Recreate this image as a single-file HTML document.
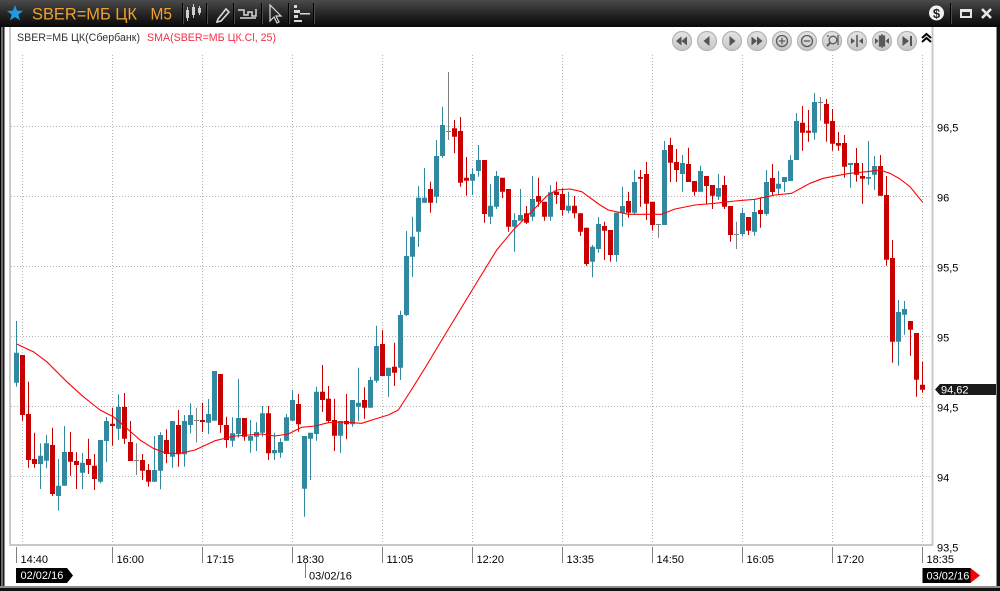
<!DOCTYPE html>
<html><head><meta charset="utf-8"><style>
html,body{margin:0;padding:0;background:#fff;}
svg{display:block;}
text{font-family:"Liberation Sans","Noto Sans CJK SC",sans-serif;}
</style></head><body>
<svg width="1000" height="591" viewBox="0 0 1000 591" xmlns="http://www.w3.org/2000/svg">
<defs>
<linearGradient id="tb" x1="0" y1="0" x2="0" y2="1">
<stop offset="0" stop-color="#4a4a4a"/><stop offset="0.45" stop-color="#2a2a2a"/><stop offset="1" stop-color="#080808"/>
</linearGradient>
<linearGradient id="btn" x1="0" y1="0" x2="0" y2="1">
<stop offset="0" stop-color="#e4e4e4"/><stop offset="1" stop-color="#c6c6c6"/>
</linearGradient>
</defs>
<rect width="1000" height="591" fill="#fff"/>
<!-- title bar -->
<rect x="0" y="0" width="1000" height="27" fill="url(#tb)"/>
<polygon points="15,5 17.06,10.67 23.08,10.87 18.33,14.58 20,20.38 15,17 10,20.38 11.67,14.58 6.92,10.87 12.94,10.67" fill="#1e9be2"/>
<text x="32" y="19.5" font-size="16.5" fill="#f2a22a" textLength="105" lengthAdjust="spacingAndGlyphs">SBER=МБ ЦК</text>
<text x="150.5" y="19.5" font-size="16.5" fill="#f2a22a" textLength="21.5" lengthAdjust="spacingAndGlyphs">M5</text>
<g stroke="#000" stroke-width="1">
<path d="M182.5 3V24M206.5 3V24M233.5 3V24M261.5 3V24M288.5 3V24M313.5 3V24M950.5 3V24"/>
</g>
<g stroke="#4a4a4a" stroke-width="1">
<path d="M183.5 3V24M207.5 3V24M234.5 3V24M262.5 3V24M289.5 3V24M314.5 3V24M951.5 3V24"/>
</g>
<!-- candle icon -->
<g fill="#cfcfcf" stroke="#cfcfcf">
<path d="M187.5 7V21M193.5 4V18M199.5 6V15" stroke-width="1"/>
<rect x="186" y="10" width="3" height="8" stroke="none"/>
<rect x="192" y="7" width="3" height="8" stroke="none"/>
<rect x="198" y="8" width="3" height="5" stroke="none"/>
</g>
<!-- pencil -->
<g stroke="#d8d8d8" fill="none" stroke-width="1.6">
<path d="M218 19L226 9L229 12L221 21L217 22Z"/>
</g>
<!-- wave icon -->
<g stroke="#d8d8d8" fill="none" stroke-width="1.5">
<path d="M238 10H244V15H248V12H252V16H256V9"/>
<path d="M240 18H256"/>
</g>
<!-- cursor -->
<path d="M270 5L270 21L274 17L277 23L279 22L276 16L281 16Z" fill="none" stroke="#d8d8d8" stroke-width="1.2"/>
<!-- bars -->
<g fill="#d8d8d8">
<rect x="294" y="5" width="3" height="3"/><rect x="294" y="10" width="6" height="3"/><rect x="294" y="15" width="4" height="3"/><rect x="294" y="20" width="8" height="2"/>
<rect x="300" y="13" width="10" height="1.5"/>
</g>
<!-- right title icons -->
<circle cx="936.5" cy="13" r="7.5" fill="#f2f2f2"/>
<text x="936.5" y="18" font-size="13" font-weight="bold" fill="#222" text-anchor="middle">$</text>
<rect x="961" y="10" width="10" height="7" fill="none" stroke="#e6e6e6" stroke-width="2"/>
<rect x="961" y="9" width="10" height="3" fill="#e6e6e6"/>
<path d="M982 9L991 18M991 9L982 18" stroke="#e6e6e6" stroke-width="2.6"/>

<!-- window borders -->
<rect x="0" y="27" width="1" height="564" fill="#000"/>
<rect x="1" y="27" width="2" height="564" fill="#6c6c6c"/>
<rect x="3" y="27" width="1.5" height="564" fill="#1a1a1a"/>
<rect x="996" y="27" width="1.2" height="564" fill="#8a8a8a"/>
<rect x="997" y="27" width="3" height="564" fill="#111"/>
<rect x="0" y="586" width="1000" height="2" fill="#8c8c8c"/>
<rect x="0" y="588" width="1000" height="3" fill="#111"/>

<!-- plot frame -->
<rect x="9" y="27" width="2" height="519" fill="#c8c8c8"/>
<rect x="931.5" y="27" width="2" height="519" fill="#c8c8c8"/>
<rect x="9" y="544" width="924.5" height="2" fill="#c8c8c8"/>

<!-- grid -->
<g stroke="#b4b4b4" stroke-width="1" stroke-dasharray="1 2" fill="none">
<path d="M11 126.5H931M11 196.5H931M11 266.5H931M11 336.5H931M11 406.5H931M11 476.5H931"/>
<path d="M22.5 55V544M112.5 55V544M202.5 55V544M292.5 55V544M382.5 55V544M472.5 55V544M562.5 55V544M652.5 55V544M742.5 55V544M832.5 55V544M922.5 55V544"/>
</g>

<!-- header texts -->
<text x="17" y="41" font-size="11" fill="#333" textLength="123" lengthAdjust="spacingAndGlyphs">SBER=МБ ЦК(Сбербанк)</text>
<text x="147" y="41" font-size="11" fill="#f03048" textLength="129" lengthAdjust="spacingAndGlyphs">SMA(SBER=МБ ЦК.Cl, 25)</text>

<!-- nav buttons -->
<g fill="url(#btn)" stroke="#b4b4b4" stroke-width="1.2">
<circle cx="682" cy="41" r="9.5"/><circle cx="707" cy="41" r="9.5"/><circle cx="732" cy="41" r="9.5"/><circle cx="757" cy="41" r="9.5"/><circle cx="782" cy="41" r="9.5"/><circle cx="807" cy="41" r="9.5"/><circle cx="832" cy="41" r="9.5"/><circle cx="857" cy="41" r="9.5"/><circle cx="882" cy="41" r="9.5"/><circle cx="907" cy="41" r="9.5"/>
</g>
<g fill="#545454">
<polygon points="676,41 681.5,36.5 681.5,45.5"/><polygon points="681.5,41 687,36.5 687,45.5"/>
<polygon points="703.5,41 709.5,36 709.5,46"/>
<polygon points="735.5,41 729.5,36 729.5,46"/>
<polygon points="751.5,36.5 757,41 751.5,45.5"/><polygon points="757,36.5 762.5,41 757,45.5"/>
<polygon points="902.5,36 909,41 902.5,46"/><rect x="910" y="36" width="2" height="10"/>
<polygon points="851,38 855,41 851,44"/><polygon points="863,38 859,41 863,44"/>
<polygon points="875,38 878.5,41 875,44"/><polygon points="889,38 885.5,41 889,44"/>
</g>
<g fill="none" stroke="#5a5a5a" stroke-width="1.3">
<circle cx="782" cy="41" r="5.5"/><path d="M778.8 41H785.2M782 37.8V44.2"/>
<circle cx="807" cy="41" r="5.5"/><path d="M803.8 41H810.2"/>
<circle cx="833" cy="40" r="3.8"/><path d="M830.2 42.8L827 46" stroke-width="2"/><path d="M828 35V37M838 35V45"/>
<path d="M857 35V47" stroke-width="1.6"/>
<rect x="879.5" y="36" width="5" height="10" fill="#5a5a5a"/><path d="M882 34V48"/>
</g>
<path d="M922 38L926.5 34L931 38M922 42L926.5 38L931 42" fill="none" stroke="#000" stroke-width="2"/>

<!-- candles: up wicks -->
<path fill="none" stroke="#3189a0" stroke-width="1" d="M16.5 321V386.7M40.5 443.3V489M46.5 435V468.3M58.5 459V510.7M64.5 426V485.7M82.5 453V489M100.5 440V483.3M106.5 417V462M118.5 394.3V440M154.5 436V481.7M160.5 432.3V489.3M172.5 421V467.7M184.5 415V466.7M190.5 403.3V433.3M208.5 399V434M214.5 371V420.7M232.5 417.3V446.7M238.5 379V437.7M250.5 420V452.7M256.5 422.3V451M262.5 406V436.7M274.5 432.7V460M280.5 438.3V457.7M286.5 414V440.7M292.5 390V420.7M304.5 436V516.7M310.5 432.7V480M316.5 386.7V440.7M340.5 421V452.7M352.5 400V426.7M358.5 367.7V421M370.5 376.7V407.7M376.5 325.7V382.7M388.5 367.7V396.7M400.5 310.7V380M406.5 231V316M412.5 216.7V276.7M418.5 186V247M424.5 168V203M436.5 140V203.3M442.5 106.7V157.7M472.5 168.3V195M478.5 145V176.7M490.5 184V224M496.5 171V209M514.5 213.3V251.7M520.5 189V220.7M532.5 176V220.7M550.5 185V220.7M568.5 191.7V213.3M592.5 245V277.3M598.5 217V252.7M616.5 212.7V261.7M622.5 186.7V226.7M634.5 170V215M664.5 141V225M682.5 155V191.7M700.5 165.7V191.7M718.5 174V200M742.5 207.7V236.7M754.5 199V235.7M766.5 170V215.7M778.5 171V195M784.5 177V192M790.5 155.3V181M796.5 113V160M814.5 93V139.7M850.5 163V187.7M868.5 141V184.7M874.5 156V190M898.5 300V365.7M904.5 301V334.7"/>
<!-- up bodies -->
<path fill="#3189a0" d="M14 352.7h5V382.7h-5zM38 455.7h5V464h-5zM44 443.3h5V460.7h-5zM56 485.7h5V496h-5zM62 452h5V485.7h-5zM80 462.7h5V472.7h-5zM98 440h5V481.7h-5zM104 421h5V441h-5zM116 407h5V428.7h-5zM152 470h5V481.7h-5zM158 435h5V470.7h-5zM170 421h5V456.7h-5zM182 421h5V454.3h-5zM188 415h5V425h-5zM206 414h5V422.7h-5zM212 371h5V420.7h-5zM230 433.3h5V440.7h-5zM236 418h5V434h-5zM248 436h5V440.7h-5zM254 432h5V436.7h-5zM260 413.3h5V432.7h-5zM272 450h5V453.3h-5zM278 442h5V452.7h-5zM284 417.3h5V440.7h-5zM290 400h5V420.7h-5zM302 436h5V488.7h-5zM308 432.7h5V438.7h-5zM314 391.7h5V434h-5zM338 421h5V435.7h-5zM350 400h5V424.3h-5zM356 402.7h5V406.7h-5zM368 380h5V407.7h-5zM374 346h5V380.7h-5zM386 367.7h5V376h-5zM398 315h5V367.7h-5zM404 256h5V315h-5zM410 236.7h5V256.7h-5zM416 197.7h5V231.7h-5zM422 197.7h5V202.7h-5zM434 156h5V196.7h-5zM440 125h5V156h-5zM470 174h5V180.7h-5zM476 160h5V171h-5zM488 205.7h5V216.7h-5zM494 176h5V206.7h-5zM512 220h5V226.7h-5zM518 215h5V220.7h-5zM530 199h5V216.7h-5zM548 192.3h5V216.7h-5zM566 205.7h5V210.7h-5zM590 246.7h5V261.7h-5zM596 224h5V249h-5zM614 212.7h5V255h-5zM620 206h5V212.7h-5zM632 182h5V212.7h-5zM662 150h5V225h-5zM680 163h5V174h-5zM698 171h5V191.7h-5zM716 188h5V196.7h-5zM740 213h5V234h-5zM752 212h5V231.7h-5zM764 182h5V214h-5zM776 183.7h5V188.7h-5zM782 177h5V182h-5zM788 160h5V181h-5zM794 121h5V160h-5zM812 102h5V132.7h-5zM848 163h5V165h-5zM866 177h5V178.7h-5zM872 166h5V174.7h-5zM896 312h5V341.7h-5zM902 309h5V314.7h-5z"/>
<!-- down wicks -->
<path fill="none" stroke="#c80000" stroke-width="1" d="M22.5 355V420.7M28.5 381.7V467.7M34.5 432.7V467.7M52.5 427.7V496M70.5 432V475.7M76.5 452.3V489M88.5 438.7V474M94.5 454V490M112.5 407.7V445.7M124.5 393V444M130.5 421V461M142.5 454V480M148.5 464V486.7M166.5 429.3V463.3M178.5 410V466.7M202.5 402.7V432M220.5 374V432.7M226.5 416.7V447.7M244.5 418V440.7M268.5 406V460M298.5 394V431.7M322.5 365V412M328.5 386V422.7M334.5 398.7V451M346.5 394V439.3M364.5 387.3V418.7M382.5 330V376M394.5 342.7V386M430.5 181.7V212.7M454.5 120V153.3M460.5 117V186.7M466.5 157V195.7M484.5 160V222.7M502.5 177.7V198.3M508.5 189V231.7M526.5 206V224M538.5 177.7V206.7M544.5 201.7V220.7M556.5 181.7V204M562.5 188.3V215.7M574.5 196V218.3M580.5 213.3V236M586.5 227.7V266M604.5 221.7V260M610.5 230V261.7M628.5 191.7V217.7M640.5 170V206.7M646.5 162V220M652.5 201.7V230.7M670.5 137.7V182M676.5 149V182M688.5 147.7V182M694.5 181V195.7M706.5 176V204M712.5 185V209M724.5 175.7V209M730.5 206V241.7M748.5 217V235M760.5 197.3V227.7M772.5 164V196M802.5 106V150.7M808.5 110V141.7M826.5 99V141.7M832.5 109V150.7M838.5 132V150.7M844.5 135V177.7M856.5 148V181.7M862.5 163V203.7M880.5 155V195.7M886.5 176V265.7M892.5 240V362.7M910.5 321V355.7M916.5 333V396.7M922.5 361.7V392.7"/>
<!-- down bodies -->
<path fill="#c80000" d="M20 355h5V415h-5zM26 414h5V460h-5zM32 459h5V464h-5zM50 445h5V494h-5zM68 452h5V461.7h-5zM74 461h5V465h-5zM86 459h5V465h-5zM92 465.7h5V479h-5zM110 423.7h5V426h-5zM122 407h5V438.7h-5zM128 442h5V461h-5zM140 460h5V470.7h-5zM146 470h5V481.7h-5zM164 440h5V454h-5zM176 425h5V454.3h-5zM200 420h5V422h-5zM218 374h5V425h-5zM224 425h5V440h-5zM242 418h5V436.7h-5zM266 413.3h5V453.3h-5zM296 404h5V424.3h-5zM320 391.7h5V400h-5zM326 398.7h5V421h-5zM332 420h5V435.7h-5zM344 421h5V424.3h-5zM362 400h5V407.7h-5zM380 344h5V376h-5zM392 366.7h5V372.7h-5zM428 189h5V202.7h-5zM452 128.3h5V136.7h-5zM458 131h5V182.7h-5zM464 177.7h5V180.7h-5zM482 160h5V214h-5zM500 177.7h5V191.7h-5zM506 189h5V226.7h-5zM524 213.3h5V222.7h-5zM536 196h5V201.7h-5zM542 201.7h5V216.7h-5zM554 191.7h5V195h-5zM560 194h5V210h-5zM572 205.7h5V213.3h-5zM578 213.3h5V231.7h-5zM584 227.7h5V264h-5zM602 226h5V230.7h-5zM608 230h5V255h-5zM626 201h5V212.7h-5zM638 177h5V178.7h-5zM644 174h5V203.7h-5zM650 201.7h5V225h-5zM668 145h5V162.7h-5zM674 162h5V170h-5zM686 164h5V182h-5zM692 181h5V191.7h-5zM704 176h5V186h-5zM710 185h5V195.7h-5zM722 185h5V206.7h-5zM728 206h5V235h-5zM746 217h5V230.7h-5zM758 210h5V214h-5zM770 178h5V192h-5zM800 122.7h5V132.7h-5zM806 130.7h5V132.7h-5zM824 104h5V123.7h-5zM830 121h5V143.7h-5zM836 143h5V145.7h-5zM842 143h5V166.7h-5zM854 163h5V174.7h-5zM860 176h5V178.7h-5zM878 166h5V195.7h-5zM884 195h5V259.7h-5zM890 258h5V341.7h-5zM908 321h5V329.7h-5zM914 333h5V379.7h-5zM920 384.7h5V389.7h-5z"/>
<!-- doji -->
<path fill="none" stroke="#808080" stroke-width="1" d="M136.5 443.3V475M134 460.5h5M196.5 407.7V442.5M194 420.5h5M448.5 72V140M446 131.5h5M658.5 224V237.7M656 224.5h5M736.5 221.7V249M734 234.5h5M820.5 97V120.7M818 102.5h5"/>

<!-- SMA -->
<polyline fill="none" stroke="#ff0000" stroke-width="1.1" stroke-linejoin="round" points="16.7,344 33.3,351.7 46.7,361.7 66.7,381.7 83.3,396.7 100,410 113.3,416.7 126.7,428.3 140,440 153.3,448.3 166.7,453.3 180,453.3 195,450 215,440.7 235,436 261.7,434 275,436 288.3,434 301.7,427.3 315,426 328.3,422.7 341.7,422 361.7,423.3 375,419 388.3,415 398.3,410 410,392 425,368 440,343 460,310 478.3,280 496.7,250 513.3,230 533.3,210 546.7,196 556.7,190 570,189 581.7,191.7 600,205 608.3,210 628.3,214.3 648.3,214.3 661.7,214.3 675,209 695,205 715,203.3 735,201 755,199.3 775,195 791.7,193.3 805,186 810,183.3 823.3,178.3 836.7,175.7 850,173.3 866.7,171.7 880,170 890,173.3 900,179 910,186.7 916.7,195 922.7,202.3"/>

<!-- price axis labels -->
<g font-size="11" fill="#000">
<text x="937" y="131.5">96,5</text>
<text x="937" y="201.5">96</text>
<text x="937" y="271.5">95,5</text>
<text x="937" y="341.5">95</text>
<text x="937" y="411.5">94,5</text>
<text x="937" y="481.5">94</text>
<text x="937" y="551.5">93,5</text>
</g>
<!-- last price label -->
<polygon points="935,389.5 940,384 996,384 996,395 940,395" fill="#1a1a1a"/>
<text x="941" y="393.5" font-size="11" fill="#fff">94,62</text>

<!-- time ticks -->
<path stroke="#808080" stroke-width="1" d="M16.5 547V563M112.5 547V563M202.5 547V563M292.5 547V563M382.5 547V563M472.5 547V563M562.5 547V563M652.5 547V563M742.5 547V563M832.5 547V563M922.5 547V563M305.5 563V578"/>
<g font-size="11" fill="#000">
<text x="20.5" y="563">14:40</text>
<text x="116.5" y="563">16:00</text>
<text x="206.5" y="563">17:15</text>
<text x="296.5" y="563">18:30</text>
<text x="386.5" y="563">11:05</text>
<text x="476.5" y="563">12:20</text>
<text x="566.5" y="563">13:35</text>
<text x="656.5" y="563">14:50</text>
<text x="746.5" y="563">16:05</text>
<text x="836.5" y="563">17:20</text>
<text x="926.5" y="563">18:35</text>
<text x="309" y="579.5">03/02/16</text>
</g>
<polygon points="16,568 67,568 73,575.5 67,583 16,583" fill="#000"/>
<text x="20.5" y="579" font-size="11" fill="#fff">02/02/16</text>
<rect x="922.5" y="568" width="48" height="15" fill="#000"/>
<polygon points="970.5,568 980,575.5 970.5,583" fill="#ff0000"/>
<text x="926.5" y="579.5" font-size="11" fill="#fff">03/02/16</text>
</svg>
</body></html>
